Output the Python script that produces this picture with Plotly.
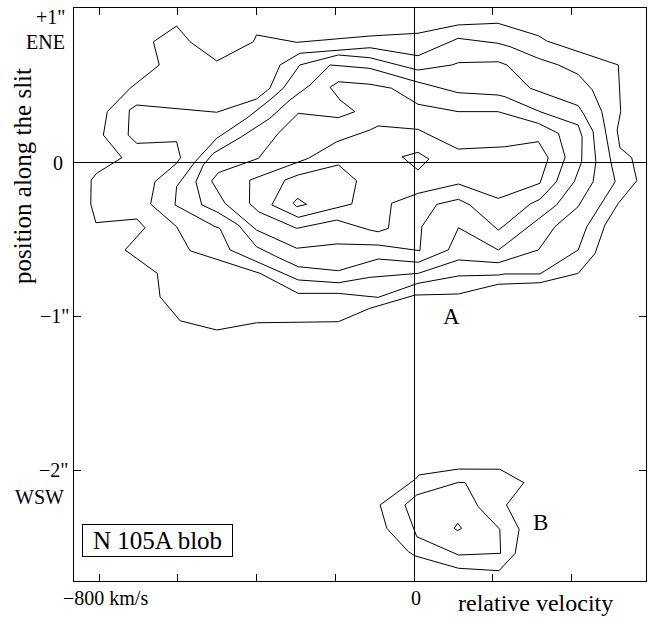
import plotly.graph_objects as go

# ---------------- data (velocity in km/s, position in arcsec) ----------------
X_TICKS = [-800, -600, -400, -200, 0, 200, 400]
Y_TICKS = [-2, -1, 0, 1]

# blob A contours (outermost -> innermost)
A1_v = [-603, -569, -501, -408, -400, -298, -112, 10, 112, 213, 316, 337, 519, 525, 516, 523, 553, 566,
        519, 485, 460, 417, 320, 231, 214, 113, 3, -112, -192, -400, -501, -594, -645, -652, -734, -683,
        -704, -808, -821, -820, -806, -742, -789, -779, -721, -647, -662]
A1_y = [0.883, 0.781, 0.656, 0.781, 0.825, 0.777, 0.818, 0.836, 0.890, 0.901, 0.820, 0.786, 0.630, 0.327,
        0.208, 0.093, 0.028, -0.121, -0.268, -0.409, -0.593, -0.723, -0.784, -0.794, -0.794, -0.857, -0.864,
        -0.950, -1.037, -1.044, -1.091, -1.031, -0.875, -0.723, -0.571, -0.427, -0.370, -0.394, -0.273,
        -0.117, -0.073, 0.028, 0.175, 0.327, 0.479, 0.630, 0.781]

A2_v = [-704, -501, -400, -366, -340, -290, -112, 10, 112, 213, 244, 316, 367, 417, 453, 477, 485, 500, 511,
        477, 439, 417, 320, 231, 214, 113, 10, -91, -192, -294, -391, -569, -603, -669, -658, -603, -593,
        -603, -704, -726, -723]
A2_y = [0.370, 0.323, 0.409, 0.479, 0.630, 0.706, 0.742, 0.690, 0.803, 0.771, 0.749, 0.673, 0.630, 0.569,
        0.468, 0.327, 0.221, 0.002, -0.128, -0.268, -0.420, -0.571, -0.727, -0.727, -0.734, -0.740, -0.788,
        -0.879, -0.853, -0.853, -0.723, -0.576, -0.420, -0.273, -0.128, -0.008, 0.028, 0.132, 0.121, 0.175,
        0.338]

A3_v = [-366, -332, -290, -192, -112, 10, 96, 113, 214, 236, 295, 417, 430, 455, 462, 455, 417, 358, 316,
        231, 214, 113, 11, -112, -192, -294, -467, -493, -505, -607, -603, -556, -501, -425]
A3_y = [0.403, 0.479, 0.630, 0.695, 0.677, 0.597, 0.630, 0.645, 0.651, 0.630, 0.479, 0.366, 0.316, 0.197,
        0.002, -0.128, -0.290, -0.420, -0.571, -0.636, -0.654, -0.636, -0.723, -0.749, -0.784, -0.766,
        -0.571, -0.431, -0.420, -0.279, -0.160, 0.002, 0.154, 0.284]

A4_v = [-315, -264, -213, -112, 0, 112, 213, 231, 320, 417, 427, 426, 407, 362, 231, 214, 113, 87, 11, -91,
        -192, -294, -349, -400, -446, -501, -539, -554, -535, -510, -438, -366]
A4_y = [0.403, 0.500, 0.630, 0.608, 0.526, 0.450, 0.435, 0.424, 0.327, 0.240, 0.164, 0.002, -0.128, -0.279,
        -0.539, -0.571, -0.427, -0.571, -0.651, -0.630, -0.706, -0.680, -0.615, -0.550, -0.409, -0.323,
        -0.279, -0.128, -0.019, 0.056, 0.164, 0.284]

A5_v = [-112, -192, -213, -188, -150, -192, -294, -345, -395, -497, -514, -480, -400, -298, -196, -91, 15,
        20, 58, 113, 142, 214, 231, 295, 320, 362, 384, 367, 316, 213, 112, 10, -57]
A5_y = [0.505, 0.521, 0.485, 0.403, 0.327, 0.288, 0.316, 0.186, 0.024, -0.069, -0.123, -0.268, -0.442,
        -0.560, -0.532, -0.539, -0.576, -0.420, -0.275, -0.242, -0.279, -0.442, -0.409, -0.273, -0.242,
        -0.128, 0.032, 0.186, 0.251, 0.327, 0.327, 0.375, 0.479]

A6_v = [-196, -268, -417, -418, -395, -298, -196, -112, -91, -65, -57, 11, 113, 214, 231, 320, 341, 316,
        231, 112, 10, -91, -112]
A6_y = [0.132, 0.024, -0.117, -0.268, -0.323, -0.431, -0.377, -0.442, -0.453, -0.431, -0.268, -0.203,
        -0.143, -0.236, -0.221, -0.138, 0.026, 0.132, 0.099, 0.084, 0.212, 0.234, 0.208]

A7_v = [-328, -294, -192, -146, -158, -294, -361]
A7_y = [-0.117, -0.084, -0.019, -0.121, -0.273, -0.359, -0.279]

A8_v = [-307, -296, -273, -298]
A8_y = [-0.268, -0.236, -0.275, -0.290]

A0_v = [-30, 10, 38, 10]          # small island near the origin
A0_y = [0.034, 0.063, 0.019, -0.052]

# blob B contours
B1_v = [-86, -69, -14, 3, 113, 216, 257, 267, 235, 279, 218, 113, 13, 3]
B1_y = [-2.227, -2.379, -2.531, -2.558, -2.638, -2.654, -2.541, -2.385, -2.227, -2.082, -1.995, -1.994,
        -2.032, -2.060]
B2_v = [-23, 7, 113, 130, 163, 218, 220, 113, 7]
B2_y = [-2.227, -2.162, -2.080, -2.082, -2.238, -2.385, -2.541, -2.552, -2.433]
B3_v = [102, 111, 121, 111]
B3_y = [-2.379, -2.346, -2.379, -2.394]

CONTOURS = [(A1_v, A1_y), (A2_v, A2_y), (A3_v, A3_y), (A4_v, A4_y), (A5_v, A5_y), (A6_v, A6_y),
            (A7_v, A7_y), (A8_v, A8_y), (A0_v, A0_y), (B1_v, B1_y), (B2_v, B2_y), (B3_v, B3_y)]

# ---------------- figure ----------------
W, H = 651, 618
L, R, T, B = 74, 5, 8, 37
PW, PH = W - L - R, H - T - B
FONT = "Liberation Serif, Times New Roman, serif"


def px(xp):
    return (xp - L) / PW


def py(yp):
    return (H - B - yp) / PH


fig = go.Figure()
for v, y in CONTOURS:
    fig.add_trace(go.Scatter(x=v + [v[0]], y=y + [y[0]], mode="lines",
                             line=dict(color="black", width=1),
                             hoverinfo="skip", showlegend=False))

axis_common = dict(ticks="inside", ticklen=7, tickwidth=1, tickcolor="black",
                   showticklabels=False, showline=True, linecolor="black", linewidth=1,
                   mirror="ticks", zeroline=True, zerolinecolor="black", zerolinewidth=1,
                   showgrid=False)

fig.update_layout(
    width=W, height=H,
    margin=dict(l=L, r=R, t=T, b=B, pad=0),
    paper_bgcolor="white", plot_bgcolor="white",
    font=dict(family=FONT, color="black", size=20),
    xaxis=dict(range=[-863.6, 589.3], tickvals=X_TICKS, **axis_common),
    yaxis=dict(range=[-2.7208, 1.0], tickvals=Y_TICKS, **axis_common),
)

ann = []
# x tick labels
ann.append(dict(text="\u2212800 km/s", xref="paper", yref="paper", x=px(105), y=py(598),
                xanchor="center", yanchor="middle", showarrow=False, font=dict(size=20)))
ann.append(dict(text="0", xref="paper", yref="paper", x=px(416), y=py(598),
                xanchor="center", yanchor="middle", showarrow=False, font=dict(size=20)))
ann.append(dict(text="relative velocity", xref="paper", yref="paper", x=px(535.5), y=py(602.5),
                xanchor="center", yanchor="middle", showarrow=False, font=dict(size=24)))
# y tick labels
for t, xc, yc in [("+1\"", 50.5, 17), ("ENE", 45.5, 41.5), ("0", 58, 163.5),
                  ("\u22121\"", 54, 316), ("\u22122\"", 53.5, 470), ("WSW", 39, 496.5)]:
    ann.append(dict(text=t, xref="paper", yref="paper", x=px(xc), y=py(yc),
                    xanchor="center", yanchor="middle", showarrow=False, font=dict(size=20)))
# y axis title
ann.append(dict(text="position along the slit", xref="paper", yref="paper", x=px(22), y=py(176),
                xanchor="center", yanchor="middle", textangle=-90, showarrow=False,
                font=dict(size=25)))
# blob labels
ann.append(dict(text="A", xref="paper", yref="paper", x=px(451.7), y=py(316.7),
                xanchor="center", yanchor="middle", showarrow=False, font=dict(size=23)))
ann.append(dict(text="B", xref="paper", yref="paper", x=px(540.5), y=py(522.5),
                xanchor="center", yanchor="middle", showarrow=False, font=dict(size=23)))
# boxed title
ann.append(dict(text="N 105A blob", xref="paper", yref="paper", x=px(157), y=py(540),
                xanchor="center", yanchor="middle", showarrow=False, font=dict(size=25),
                bordercolor="black", borderwidth=1, borderpad=0, width=149, height=31,
                bgcolor="white"))
fig.update_layout(annotations=ann)

fig.write_html("out.html")
